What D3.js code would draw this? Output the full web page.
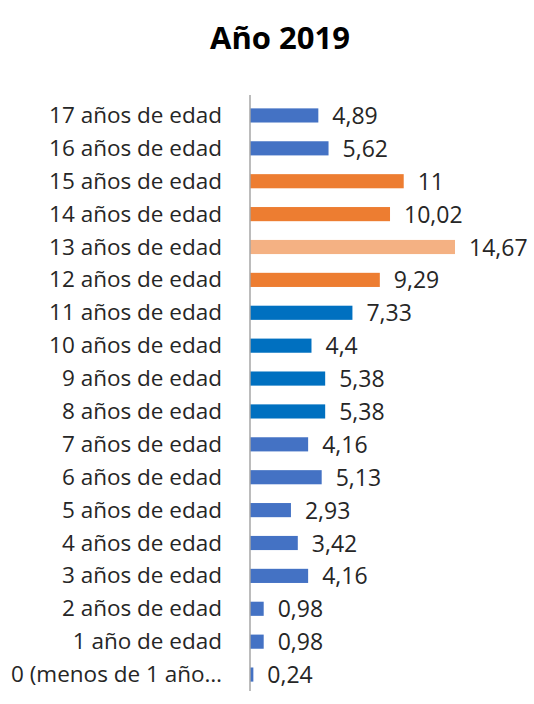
<!DOCTYPE html>
<html lang="es">
<head>
<meta charset="utf-8">
<title>Año 2019</title>
<script src="https://d3js.org/d3.v7.min.js"></script>
<style>
  body, html { margin: 0; padding: 0; background: #fff; }
  text { font-family: "Open Sans", "Noto Sans", sans-serif; fill: #262626; }
  .title { font-weight: bold; font-size: 31px; fill: #000; }
  .cat { font-size: 22.5px; }
  .val { font-size: 23px; }
</style>
</head>
<body>
<svg width="534" height="704"></svg>
<script>
// categories from bottom to top as in the original
var categories = ["0 (menos de 1 año…", "1 año de edad", "2 años de edad", "3 años de edad",
  "4 años de edad", "5 años de edad", "6 años de edad", "7 años de edad", "8 años de edad",
  "9 años de edad", "10 años de edad", "11 años de edad", "12 años de edad", "13 años de edad",
  "14 años de edad", "15 años de edad", "16 años de edad", "17 años de edad"];
var values = [0.24, 0.98, 0.98, 4.16, 3.42, 2.93, 5.13, 4.16, 5.38, 5.38, 4.4, 7.33, 9.29, 14.67, 10.02, 11, 5.62, 4.89];
var barColors = ["#4472C4", "#4472C4", "#4472C4", "#4472C4", "#4472C4", "#4472C4", "#4472C4", "#4472C4",
  "#0070C0", "#0070C0", "#0070C0", "#0070C0", "#ED7D31", "#F4B183", "#ED7D31", "#ED7D31", "#4472C4", "#4472C4"];

var svg = d3.select("svg");
var plotLeft = 250, plotTop = 99, plotBottom = 691;

var x = d3.scaleLinear().domain([0, 14.67]).range([plotLeft, 455]);
var y = d3.scaleBand()
    .domain(categories.slice().reverse())
    .range([plotTop, plotBottom])
    .paddingInner(0.57)
    .paddingOuter(0.285);

svg.append("text").attr("class", "title")
    .attr("x", 280).attr("y", 49)
    .attr("text-anchor", "middle")
    .text("Año 2019");

svg.selectAll("rect.bar")
    .data(values)
    .enter().append("rect")
    .attr("class", "bar")
    .attr("x", x(0))
    .attr("y", function (d, i) { return y(categories[i]); })
    .attr("width", function (d) { return x(d) - x(0); })
    .attr("height", y.bandwidth())
    .attr("fill", function (d, i) { return barColors[i]; });

svg.selectAll("text.val")
    .data(values)
    .enter().append("text")
    .attr("class", "val")
    .attr("x", function (d) { return x(d) + 14; })
    .attr("y", function (d, i) { return y(categories[i]) + y.bandwidth() / 2 + 8.5; })
    .text(function (d) { return String(d).replace(".", ","); });

svg.selectAll("text.cat")
    .data(categories)
    .enter().append("text")
    .attr("class", "cat")
    .attr("x", 222)
    .attr("y", function (d) { return y(d) + y.bandwidth() / 2 + 7.5; })
    .attr("text-anchor", "end")
    .text(function (d) { return d; });

svg.append("line")
    .attr("x1", plotLeft).attr("x2", plotLeft)
    .attr("y1", 95).attr("y2", plotBottom)
    .attr("stroke", "#a6a6a6").attr("stroke-width", 1.5);
</script>
</body>
</html>
